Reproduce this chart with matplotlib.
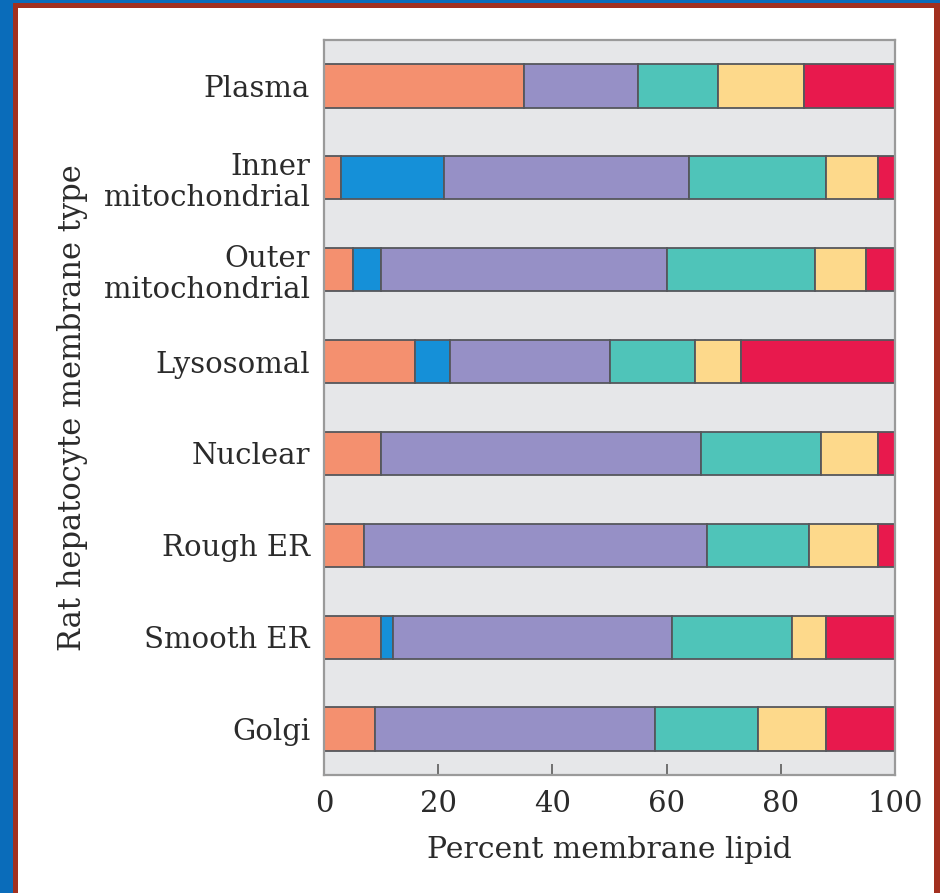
"""Lipid composition of rat hepatocyte membranes, stacked horizontal bars."""
import numpy as np
import matplotlib

matplotlib.use("Agg")
import matplotlib.pyplot as plt
from matplotlib.patches import Rectangle

membranes = ["Plasma", "Inner\nmitochondrial", "Outer\nmitochondrial", "Lysosomal",
             "Nuclear", "Rough ER", "Smooth ER", "Golgi"]

# percent of membrane lipid, one list per lipid class (left to right in each bar)
cholesterol = [35, 3, 5, 16, 10, 7, 10, 9]
cardiolipin = [0, 18, 5, 6, 0, 0, 2, 0]
phosphatidylcholine = [20, 43, 50, 28, 56, 60, 49, 49]
phosphatidylethanolamine = [14, 24, 26, 15, 21, 18, 21, 18]
minor_phospholipids = [15, 9, 9, 8, 10, 12, 6, 12]
sphingolipids = [16, 3, 5, 27, 3, 3, 12, 12]

xticks = [0, 20, 40, 60, 80, 100]

series = [cholesterol, cardiolipin, phosphatidylcholine,
          phosphatidylethanolamine, minor_phospholipids, sphingolipids]
colors = ["#F4906F", "#1590D8", "#9690C6", "#4FC4B9", "#FDD98B", "#E8194D"]

W, H = 940, 893
fig = plt.figure(figsize=(W / 100, H / 100), dpi=100, facecolor="white")
plt.rcParams["font.family"] = ["DejaVu Serif"]
text_color = "#2b2b2b"

ax = fig.add_axes([324 / W, 1 - 775 / H, (895 - 324) / W, (775 - 40) / H])
ax.set_facecolor("#E6E7E9")

y = np.arange(len(membranes))
left = np.zeros(len(membranes))
for vals, col in zip(series, colors):
    vals = np.array(vals, dtype=float)
    keep = vals > 0
    ax.barh(y[keep], vals[keep], left=left[keep], height=0.47, color=col,
            edgecolor="#55575c", linewidth=1.3, zorder=2)
    left += vals

ax.set_xlim(0, 100)
ax.set_ylim(len(membranes) - 0.5, -0.5)
ax.set_yticks(y)
ax.set_yticklabels(membranes, fontsize=21, color=text_color, linespacing=1.15)
ax.set_xticks(xticks)
ax.set_xticklabels([str(t) for t in xticks], fontsize=21, color=text_color)
ax.tick_params(axis="y", length=0, pad=10)
ax.tick_params(axis="x", direction="in", length=8, width=1.3, color="#666666",
               pad=11)

for sp in ax.spines.values():
    sp.set_color("#9a9a9a")
    sp.set_linewidth(1.6)

ax.set_xlabel("Percent membrane lipid", fontsize=21.5, color=text_color)
ax.xaxis.set_label_coords(0.5, -0.083)
ax.set_ylabel("Rat hepatocyte membrane type", fontsize=22, color=text_color)
ax.yaxis.set_label_coords(-0.413, 0.5)

# decorative frame: blue band on left/top, thin red rule inside it
def px_rect(x0, y0, x1, y1, color):
    fig.add_artist(Rectangle((x0 / W, 1 - y1 / H), (x1 - x0) / W, (y1 - y0) / H,
                             transform=fig.transFigure, color=color, zorder=10,
                             linewidth=0))

blue, red = "#0A6CBA", "#A2301F"
px_rect(0, 0, 13, H, blue)
px_rect(0, 0, W, 3, blue)
px_rect(13, 3, 18, H, red)
px_rect(13, 3, W, 8, red)
px_rect(934, 3, W, H, red)

fig.savefig("out.png", dpi=100, facecolor="white")
